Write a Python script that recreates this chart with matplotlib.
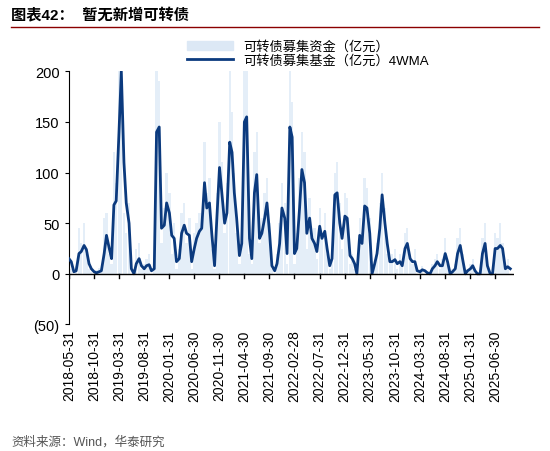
import pandas as pd
import matplotlib.pyplot as plt
import matplotlib.patches as mpatches

plt.rcParams['font.family'] = ['Liberation Sans', 'Noto Sans CJK SC', 'DejaVu Sans']

# 可转债募集资金 4WMA（半月取值）
ma4 = [15, 12, 2, 3, 20, 22, 28, 24, 10, 5, 2, 1, 2, 3, 20, 38, 25, 15, 68, 72,
       140, 200, 110, 70, 50, 5, 0, 10, 15, 8, 5, 8, 9, 3, 5, 140, 145, 45, 48, 70,
       60, 38, 35, 12, 15, 40, 48, 40, 38, 12, 25, 35, 42, 45, 90, 65, 70, 40, 8, 55,
       105, 80, 50, 60, 130, 120, 80, 55, 18, 30, 150, 155, 35, 15, 80, 98, 35, 40, 55, 70,
       40, 8, 3, 10, 30, 65, 55, 20, 145, 135, 20, 25, 65, 103, 90, 40, 55, 35, 30, 22,
       47, 35, 42, 25, 8, 15, 78, 80, 50, 35, 57, 55, 18, 15, 10, 0, 38, 30, 67, 65,
       40, 0, 10, 20, 45, 78, 50, 30, 12, 12, 14, 10, 12, 8, 25, 30, 15, 12, 12, 3,
       2, 4, 3, 1, 0, 5, 8, 12, 8, 8, 20, 12, 0, 2, 5, 20, 28, 15, 0, 3,
       5, 8, 3, 0, 0, 20, 30, 8, 0, 0, 25, 25, 28, 25, 5, 7, 5]

# 可转债募集资金（亿元）
raw = [40, 5, 0, 8, 45, 30, 50, 20, 5, 2, 0, 4, 6, 2, 55, 60, 20, 10, 120, 90,
       210, 260, 60, 40, 70, 0, 0, 25, 30, 5, 10, 15, 20, 0, 10, 210, 190, 30, 65, 100,
       80, 20, 50, 5, 25, 60, 70, 30, 55, 5, 40, 50, 60, 55, 130, 80, 95, 25, 5, 80,
       150, 110, 40, 90, 210, 160, 100, 40, 10, 45, 230, 220, 20, 10, 120, 140, 30, 55, 80, 95,
       50, 5, 0, 20, 50, 90, 70, 10, 230, 170, 10, 40, 95, 140, 120, 25, 75, 40, 45, 15,
       65, 40, 60, 20, 5, 25, 100, 110, 70, 25, 80, 75, 10, 20, 5, 0, 55, 40, 95, 85,
       55, 0, 15, 30, 70, 100, 65, 20, 15, 20, 25, 5, 20, 10, 40, 45, 20, 10, 25, 0,
       5, 8, 0, 3, 0, 10, 15, 20, 5, 15, 35, 10, 0, 5, 10, 35, 45, 20, 0, 5,
       10, 15, 0, 0, 0, 35, 50, 10, 0, 0, 40, 35, 50, 30, 5, 15, 0]

dates = pd.date_range('2018-06-01', periods=len(ma4), freq='SMS')
ticks = pd.date_range('2018-05-31', periods=18, freq='5ME')

fig = plt.figure(figsize=(5.5, 4.52), dpi=100)
ax = fig.add_axes([0.125, 0.28, 0.81, 0.56])

ax.bar(dates, raw, width=14, color='#e4eef8', zorder=1)
ax.plot(dates, ma4, color='#0b3a7e', lw=2, zorder=3)
ax.axhline(0, color='black', lw=1, zorder=4)
for t in ticks:
    ax.plot([t, t], [0, -4], color='black', lw=1, zorder=4)

ax.set_ylim(-50, 200)
ax.set_yticks([-50, 0, 50, 100, 150, 200])
ax.set_yticklabels(['(50)', '0', '50', '100', '150', '200'], fontsize=10.5)
ax.set_xlim(pd.Timestamp('2018-05-31'), pd.Timestamp('2025-10-25'))
ax.set_xticks(ticks)
ax.set_xticklabels([t.strftime('%Y-%m-%d') for t in ticks], rotation=90, fontsize=10)
ax.tick_params(axis='x', length=0)
ax.tick_params(axis='y', length=3)
for s in ['top', 'right', 'bottom']:
    ax.spines[s].set_visible(False)

h1 = mpatches.Patch(color='#dce8f5')
h2 = plt.Line2D([], [], color='#0b3a7e', lw=2)
fig.legend([h1, h2], ['可转债募集资金（亿元）', '可转债募集基金（亿元）4WMA'],
           loc='upper center', bbox_to_anchor=(0.56, 0.935), frameon=False,
           fontsize=9.5, handlelength=3.5, labelspacing=0.1)

fig.text(0.02, 0.955, '图表42：  暂无新增可转债', fontsize=11, fontweight='bold')
fig.add_artist(plt.Line2D([0.02, 0.98], [0.938, 0.938], color='#8b0000', lw=1))
fig.text(0.02, 0.015, '资料来源：Wind，华泰研究', fontsize=9, color='#555555')

fig.savefig('out.png', dpi=100)
